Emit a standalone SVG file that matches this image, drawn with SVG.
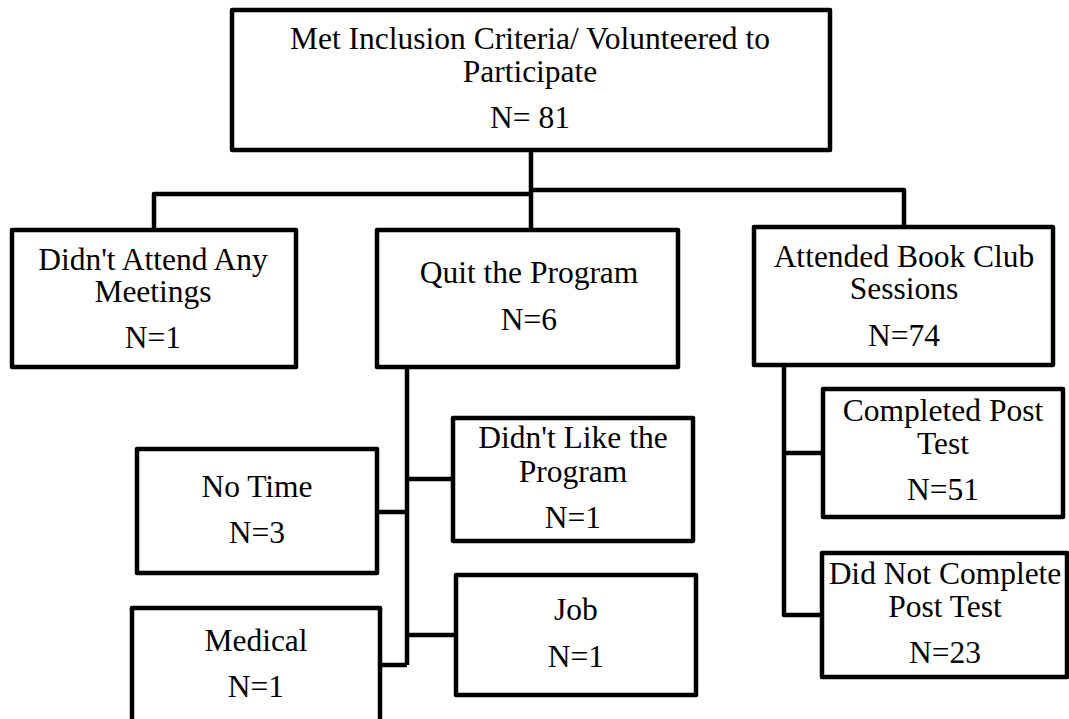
<svg xmlns="http://www.w3.org/2000/svg" width="1069" height="719" viewBox="0 0 1069 719">
<style>
.box{fill:#fff;stroke:#000;stroke-width:4.5;stroke-linejoin:round}
.lbl{font-family:"Liberation Serif","Times New Roman",serif;font-size:31.5px;fill:#000;text-anchor:middle}
.con{fill:none;stroke:#000;stroke-width:4.5;stroke-linejoin:round}
</style>
<rect width="1069" height="719" fill="#fff"/>
<g id="connectors">
<path class="con" d="M531,150 V230"/>
<path class="con" d="M154,230 V194 H531"/>
<path class="con" d="M531,190 H904 V227"/>
<path class="con" d="M407,367 V665"/>
<path class="con" d="M377,512 H407"/>
<path class="con" d="M407,479 H453"/>
<path class="con" d="M407,635 H456"/>
<path class="con" d="M380,665 H407"/>
<path class="con" d="M784,365 V615 H822"/>
<path class="con" d="M784,453 H823"/>
</g>
<g id="n-root">
<rect class="box" x="232" y="10" width="598" height="140"/>
<text class="lbl" x="530" y="49">Met Inclusion Criteria/ Volunteered to</text>
<text class="lbl" x="530" y="82">Participate</text>
<text class="lbl" x="530" y="128">N= 81</text>
</g>
<g id="n-noattend">
<rect class="box" x="12" y="230" width="284" height="137"/>
<text class="lbl" x="153" y="270">Didn't Attend Any</text>
<text class="lbl" x="153" y="302">Meetings</text>
<text class="lbl" x="153" y="348">N=1</text>
</g>
<g id="n-quit">
<rect class="box" x="377" y="230" width="301" height="137"/>
<text class="lbl" x="529" y="283">Quit the Program</text>
<text class="lbl" x="529" y="330">N=6</text>
</g>
<g id="n-attended">
<rect class="box" x="754" y="227" width="299" height="138"/>
<text class="lbl" x="904" y="267">Attended Book Club</text>
<text class="lbl" x="904" y="299">Sessions</text>
<text class="lbl" x="904" y="346">N=74</text>
</g>
<g id="n-notime">
<rect class="box" x="137" y="449" width="240" height="124"/>
<text class="lbl" x="257" y="497">No Time</text>
<text class="lbl" x="257" y="543">N=3</text>
</g>
<g id="n-medical">
<rect class="box" x="132" y="608" width="248" height="130"/>
<text class="lbl" x="256" y="651">Medical</text>
<text class="lbl" x="256" y="697">N=1</text>
</g>
<g id="n-dislike">
<rect class="box" x="453" y="418" width="240" height="123"/>
<text class="lbl" x="573" y="448">Didn't Like the</text>
<text class="lbl" x="573" y="482">Program</text>
<text class="lbl" x="573" y="528">N=1</text>
</g>
<g id="n-job">
<rect class="box" x="456" y="575" width="240" height="120"/>
<text class="lbl" x="576" y="620">Job</text>
<text class="lbl" x="576" y="667">N=1</text>
</g>
<g id="n-completed">
<rect class="box" x="823" y="389" width="240" height="128"/>
<text class="lbl" x="943" y="421">Completed Post</text>
<text class="lbl" x="943" y="454">Test</text>
<text class="lbl" x="943" y="500">N=51</text>
</g>
<g id="n-notcompleted">
<rect class="box" x="822" y="553" width="245" height="124"/>
<text class="lbl" x="945" y="584">Did Not Complete</text>
<text class="lbl" x="945" y="617">Post Test</text>
<text class="lbl" x="945" y="663">N=23</text>
</g>
</svg>
